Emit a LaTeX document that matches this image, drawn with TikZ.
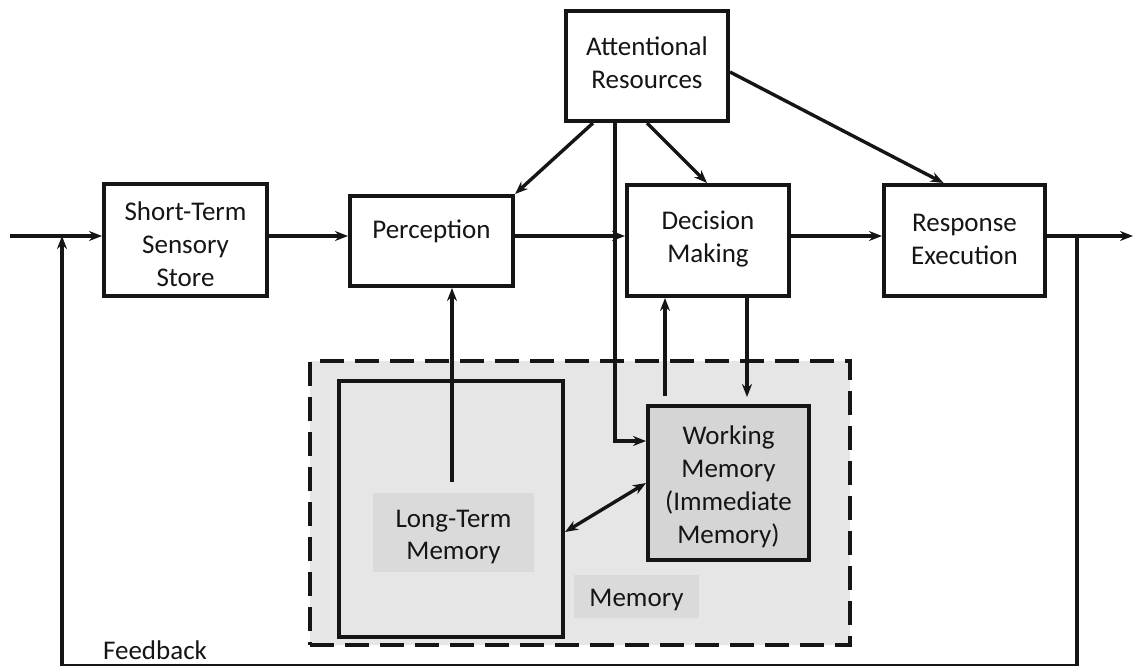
\documentclass[tikz,border=0pt]{standalone}
\usepackage{fontspec}
\setmainfont{Carlito}
\usetikzlibrary{arrows.meta}
\definecolor{membg}{HTML}{E6E6E6}
\definecolor{wmfill}{HTML}{D5D5D5}
\definecolor{tagfill}{HTML}{DADADA}
\definecolor{ink}{HTML}{151515}
\begin{document}
\begin{tikzpicture}[x=1pt,y=-1pt,
  box/.style={draw=ink,line width=4pt,inner sep=0pt,fill=white},
  lbl/.style={font=\fontsize{27}{33}\selectfont,align=center,inner sep=0pt,text=ink},
  tag/.style={fill=tagfill,inner sep=0pt},
  tip/.style={Stealth[length=13pt,width=10pt]},
  conn/.style={draw=ink,line width=3.4pt,-{Stealth[length=13pt,width=10pt]}},
  both/.style={draw=ink,line width=3.4pt,{Stealth[length=13pt,width=10pt]}-{Stealth[length=13pt,width=10pt]}},
]
\useasboundingbox (0,0) rectangle (1135,665);

% memory region
\node[draw=ink,line width=3.8pt,dash pattern=on 24pt off 11pt,fill=membg,
      minimum width=540pt,minimum height=284pt,inner sep=0pt] (mem) at (580,503) {};
\node[box,fill=membg,minimum width=224pt,minimum height=256pt] (ltm) at (451,509) {};
\node[tag,minimum width=161pt,minimum height=79pt] (ltmtag) at (453.5,532.5) {};
\node[lbl,font=\fontsize{27}{32}\selectfont] (ltmT) at (453.5,537) {Long-Term\\Memory};
\node[tag,minimum width=125pt,minimum height=43pt] (memtag) at (636.5,596.5) {};
\node[lbl] (memT) at (636.5,600) {Memory};
\node[box,fill=wmfill,minimum width=161pt,minimum height=154pt] (wm) at (728.5,483) {};
\node[lbl] (wmT) at (728.5,487) {Working\\Memory\\(Immediate\\Memory)};

% processing stages
\node[box,minimum width=163pt,minimum height=112pt] (stss) at (185.5,240) {};
\node[lbl] (stssT) at (185.5,244) {Short-Term\\Sensory\\Store};
\node[box,minimum width=163pt,minimum height=90pt] (perc) at (431.5,241) {};
\node[lbl] (percT) at (431.5,231) {Perception};
\node[box,minimum width=162pt,minimum height=110pt] (ar) at (647,66) {};
\node[lbl] (arT) at (647,63) {Attentional\\Resources};
\node[box,minimum width=162pt,minimum height=111pt] (dm) at (708,240.5) {};
\node[lbl] (dmT) at (708,239) {Decision\\Making};
\node[box,minimum width=161pt,minimum height=111pt] (re) at (964.5,240.5) {};
\node[lbl] (reT) at (964.5,239) {Response\\Execution};
\node[lbl] (fbT) at (155,650) {Feedback};

% main flow
\coordinate (in) at (10,236);
\coordinate (out) at (1133,236);
\coordinate (fbR) at (1077,236);
\coordinate (fbL) at (62,236);
\coordinate (fbB) at (62,665.5);
\draw[conn] (in) -- (stss.west |- in);
\draw[conn] (stss.east |- in) -- (perc.west |- in);
\draw[conn] (perc.east |- in) -- (dm.west |- in);
\draw[conn] (dm.east |- in) -- (re.west |- in);
\draw[conn] (re.east |- in) -- (out);
\draw[conn] (fbR) |- (fbB) -- (fbL);

% attention
\draw[conn] ([xshift=29pt]ar.south west) -- (perc.north east);
\draw[conn] (ar.south) -- ([xshift=-1pt]dm.north);
\draw[conn] ([yshift=-6pt]ar.east) -- ([xshift=-21pt]re.north);
\draw[conn] ([xshift=-32pt]ar.south) |- ([yshift=42pt]wm.west);

% memory links
\coordinate (ltmup) at (452,482);
\draw[conn] (ltmup) -- (ltmup |- perc.south);
\draw[conn] ([xshift=19pt,yshift=8pt]wm.north west) -- ([xshift=19pt]wm.north west |- dm.south);
\draw[conn] ([xshift=101pt]wm.north west |- dm.south) -- ([xshift=101pt,yshift=7pt]wm.north west);
\draw[both] ([yshift=-23pt]ltm.east) -- (wm.west);
\end{tikzpicture}
\end{document}
